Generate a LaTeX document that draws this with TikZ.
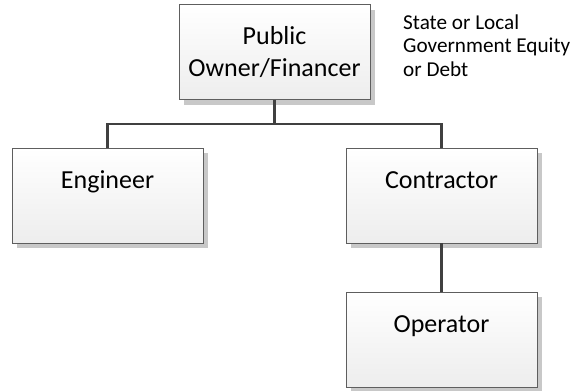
\documentclass[tikz,border=0pt]{standalone}
\usepackage{fontspec}
\setmainfont{Carlito}
\usepackage{tikz}
\usetikzlibrary{calc,positioning,shadows}
\usepackage[dvipsnames]{xcolor}

\definecolor{boxline}{HTML}{5E5E5E}
\definecolor{boxbot}{HTML}{EDEDED}
\definecolor{shade}{HTML}{C8C8C8}
\definecolor{wire}{HTML}{404040}

\tikzset{
  party/.style={draw=boxline, line width=0.9pt, top color=white, bottom color=boxbot,
    minimum width=191pt, minimum height=95pt, inner sep=0pt,
    drop shadow={shadow xshift=5pt, shadow yshift=-5pt, fill=shade, opacity=1}},
  partytext/.style={inner sep=0pt, anchor=base, font=\fontsize{26}{32}\selectfont},
  wire/.style={draw=wire, line width=2.6pt}
}

\begin{document}
\begin{tikzpicture}[x=1pt,y=-1pt]
    \useasboundingbox (0,0) rectangle (571,391);

    \node[party] (pub) at (274.5,52) {};
    \node[party] (eng) at (107.5,195.5) {};
    \node[party] (con) at (441.5,195.5) {};
    \node[party] (op) at (441.5,339.5) {};

    \node[partytext] (pubt) at ([yshift=-40pt]pub.north)
      {\begin{tabular}[t]{@{}c@{}}Public\\Owner/Financer\end{tabular}};
    \node[partytext] (engt) at ([yshift=-41pt]eng.north) {Engineer};
    \node[partytext] (cont) at ([yshift=-41pt]con.north) {Contractor};
    \node[partytext] (opt) at ([yshift=-41pt]op.north) {Operator};

    \node[inner sep=0pt, anchor=base west, font=\fontsize{21.2}{23.5}\selectfont] (fund) at (403,29)
      {\begin{tabular}[t]{@{}l@{}}State or Local\\Government Equity\\or Debt\end{tabular}};

    \coordinate (bus) at (274.5,124);
    \draw[wire] (pub.south) -- (bus);
    \draw[wire] (eng.north) |- (bus) -| (con.north);
    \draw[wire] (con.south) -- (op.north);
  \end{tikzpicture}
\end{document}
